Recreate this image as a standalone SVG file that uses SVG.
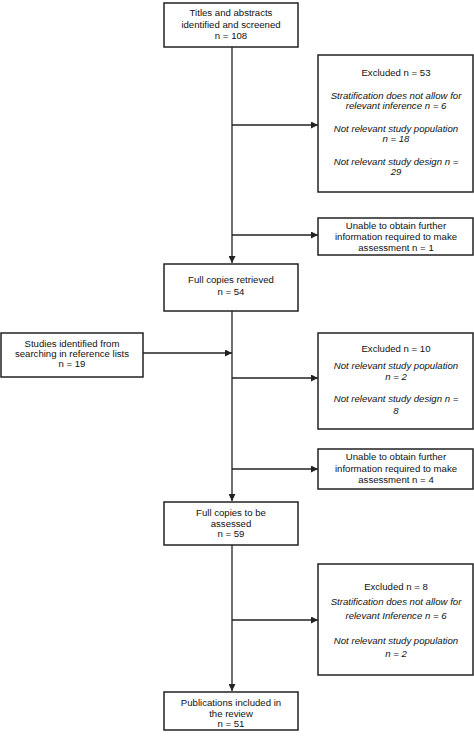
<svg xmlns="http://www.w3.org/2000/svg" width="474" height="740" viewBox="0 0 474 740">
<style>
.box{fill:#fff;stroke:#222;stroke-width:1.5}
.ln{stroke:#222;stroke-width:1.3;fill:none}
text{font-family:"Liberation Sans",Arial,sans-serif;font-size:9.6px;fill:#111;text-anchor:middle}
.it{font-style:italic}
</style>
<defs>
<marker id="ah" viewBox="0 0 10 10" refX="10" refY="5" markerWidth="7" markerHeight="7" markerUnits="userSpaceOnUse" orient="auto">
<path d="M0,0 L10,5 L0,10 z" fill="#222"/>
</marker>
</defs>
<rect width="474" height="740" fill="#fff"/>
<g id="connectors">
<line class="ln" x1="232" y1="47" x2="232" y2="263" marker-end="url(#ah)"/>
<line class="ln" x1="232" y1="125" x2="318" y2="125" marker-end="url(#ah)"/>
<line class="ln" x1="232" y1="235" x2="318" y2="235" marker-end="url(#ah)"/>
<line class="ln" x1="232" y1="311" x2="232" y2="501" marker-end="url(#ah)"/>
<line class="ln" x1="143" y1="353" x2="232" y2="353" marker-end="url(#ah)"/>
<line class="ln" x1="232" y1="378" x2="318" y2="378" marker-end="url(#ah)"/>
<line class="ln" x1="232" y1="469" x2="318" y2="469" marker-end="url(#ah)"/>
<line class="ln" x1="232" y1="545" x2="232" y2="691" marker-end="url(#ah)"/>
<line class="ln" x1="232" y1="620" x2="318" y2="620" marker-end="url(#ah)"/>
</g>
<g id="n1">
<rect class="box" x="164" y="3" width="134" height="44"/>
<text x="231" y="16">Titles and abstracts</text>
<text x="231" y="28">identified and screened</text>
<text x="231" y="39">n = 108</text>
</g>
<g id="ex1">
<rect class="box" x="318" y="55" width="155" height="137"/>
<text x="396" y="76">Excluded n = 53</text>
<text class="it" x="396" y="99">Stratification does not allow for</text>
<text class="it" x="396" y="109">relevant inference n = 6</text>
<text class="it" x="396" y="132">Not relevant study population</text>
<text class="it" x="396" y="142">n = 18</text>
<text class="it" x="396" y="165">Not relevant study design n =</text>
<text class="it" x="396" y="175">29</text>
</g>
<g id="un1">
<rect class="box" x="318" y="218" width="155" height="37"/>
<text x="396" y="229">Unable to obtain further</text>
<text x="396" y="240">information required to make</text>
<text x="396" y="251">assessment n = 1</text>
</g>
<g id="n2">
<rect class="box" x="164" y="264" width="134" height="47"/>
<text x="231" y="283">Full copies retrieved</text>
<text x="231" y="295">n = 54</text>
</g>
<g id="st">
<rect class="box" x="1" y="333" width="142" height="44"/>
<text x="72" y="347">Studies identified from</text>
<text x="72" y="357">searching in reference lists</text>
<text x="72" y="367">n = 19</text>
</g>
<g id="ex2">
<rect class="box" x="318" y="333" width="155" height="96"/>
<text x="396" y="352">Excluded n = 10</text>
<text class="it" x="396" y="369">Not relevant study population</text>
<text class="it" x="396" y="380">n = 2</text>
<text class="it" x="396" y="402">Not relevant study design n =</text>
<text class="it" x="396" y="414">8</text>
</g>
<g id="un2">
<rect class="box" x="318" y="449" width="155" height="40"/>
<text x="396" y="460">Unable to obtain further</text>
<text x="396" y="472">information required to make</text>
<text x="396" y="483">assessment n = 4</text>
</g>
<g id="n3">
<rect class="box" x="164" y="502" width="134" height="43"/>
<text x="231" y="516">Full copies to be</text>
<text x="231" y="527">assessed</text>
<text x="231" y="537">n = 59</text>
</g>
<g id="ex3">
<rect class="box" x="318" y="564" width="155" height="111"/>
<text x="396" y="590">Excluded n = 8</text>
<text class="it" x="396" y="605">Stratification does not allow for</text>
<text class="it" x="396" y="619">relevant Inference n = 6</text>
<text class="it" x="396" y="644">Not relevant study population</text>
<text class="it" x="396" y="657">n = 2</text>
</g>
<g id="n4">
<rect class="box" x="164" y="692" width="134" height="38"/>
<text x="231" y="706">Publications included in</text>
<text x="231" y="717">the review</text>
<text x="231" y="727">n = 51</text>
</g>
</svg>
